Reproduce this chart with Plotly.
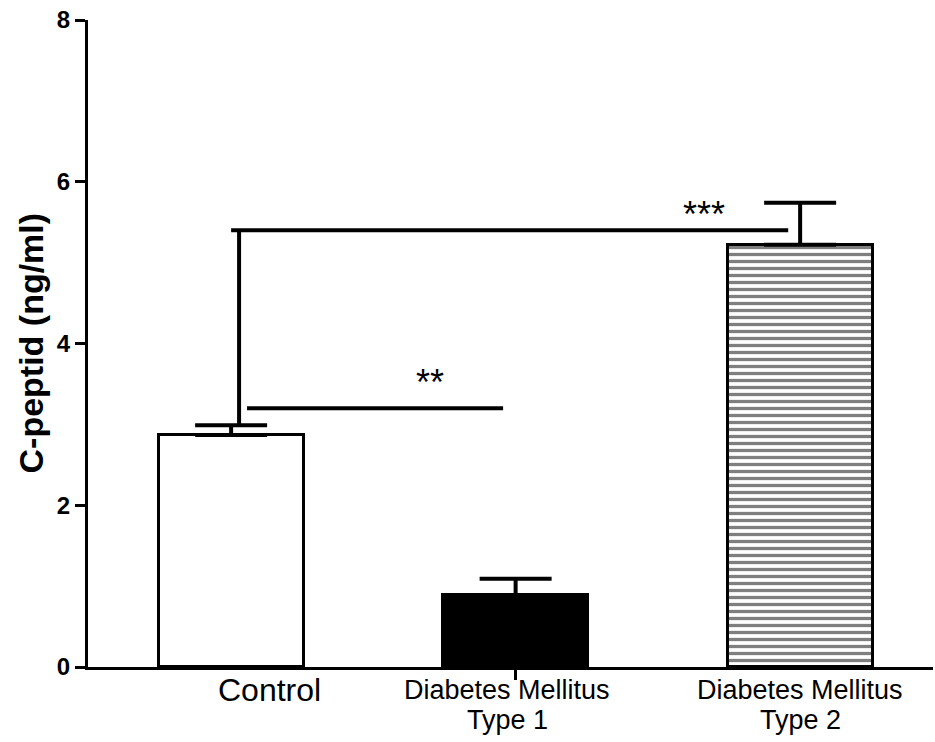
import plotly.graph_objects as go

categories = ["Control", "Diabetes Mellitus Type 1", "Diabetes Mellitus Type 2"]
label_lines = [["Control"], ["Diabetes Mellitus", "Type 1"], ["Diabetes Mellitus", "Type 2"]]
means = [2.87, 0.89, 5.22]
sem = [0.12, 0.20, 0.52]
y_ticks = [0, 2, 4, 6, 8]

# significance annotations
sig_high_level = 5.40   # control vs type 2
sig_low_level = 3.20    # control vs type 1
sig_high_text = "***"
sig_low_text = "**"

FONT = "Liberation Sans, Arial, sans-serif"
xpos = list(range(len(categories)))

W, H = 935, 742
ML, MR, MT, MB = 88, 2, 20, 75

fig = go.Figure()

fills = ["white", "black", "white"]
patterns = [dict(shape=""), dict(shape=""),
            dict(shape="-", size=7, solidity=0.47, fgcolor="black", bgcolor="white", fillmode="overlay")]
for i in range(3):
    fig.add_trace(go.Bar(
        x=[xpos[i]], y=[means[i]], width=0.51,
        marker=dict(color=fills[i], line=dict(color="black", width=3), pattern=patterns[i]),
        error_y=dict(type="data", symmetric=False, array=[sem[i]], arrayminus=[0],
                     color="black", thickness=4, width=36),
        showlegend=False, hoverinfo="skip",
    ))

# bracket control -> type 2
ctrl_top = means[0] + sem[0]
fig.add_trace(go.Scatter(
    x=[xpos[0] + 0.028, xpos[0] + 0.028, None, xpos[0] + 0.0, xpos[2] - 0.042],
    y=[ctrl_top, sig_high_level, None, sig_high_level, sig_high_level],
    mode="lines", line=dict(color="black", width=4), showlegend=False, hoverinfo="skip"))
# bracket control -> type 1
fig.add_trace(go.Scatter(
    x=[xpos[0] + 0.056, xpos[1] - 0.044],
    y=[sig_low_level, sig_low_level],
    mode="lines", line=dict(color="black", width=4), showlegend=False, hoverinfo="skip"))

plot_w = W - ML - MR
plot_h = H - MT - MB

annotations = [
    dict(x=xpos[2] - 0.337, y=sig_high_level - 0.08, text=sig_high_text, showarrow=False,
         xref="x", yref="y", yanchor="bottom", font=dict(family=FONT, size=36, color="black")),
    dict(x=xpos[1] - 0.30, y=sig_low_level + 0.045, text=sig_low_text, showarrow=False,
         xref="x", yref="y", yanchor="bottom", font=dict(family=FONT, size=36, color="black")),
    dict(x=(30 - ML) / plot_w, y=0.5, xref="paper", yref="paper", text="C-peptid (ng/ml)", textangle=-90,
         showarrow=False, xanchor="center", yanchor="middle",
         font=dict(family=FONT, size=34, color="black", weight="bold")),
]

# category labels (pixel offsets below the x axis)
label_offsets = [0.135, -0.03, 0.0]
label_sizes = [32, 27, 27]
for i, lines in enumerate(label_lines):
    for j, line in enumerate(lines):
        annotations.append(dict(
            x=xpos[i] + label_offsets[i], y=-(23 + 30 * j) / plot_h, xref="x", yref="paper",
            text=line, showarrow=False, xanchor="center", yanchor="middle",
            font=dict(family=FONT, size=label_sizes[i], color="black")))

fig.update_layout(
    width=W, height=H,
    margin=dict(l=ML, r=MR, t=MT, b=MB),
    plot_bgcolor="white", paper_bgcolor="white",
    bargap=0,
    annotations=annotations,
    xaxis=dict(range=[-0.503, 2.467], showgrid=False, zeroline=False,
               showline=True, linecolor="black", linewidth=3,
               ticks="outside", tickvals=[xpos[1]], ticklen=10, tickwidth=3, tickcolor="black",
               showticklabels=False),
    yaxis=dict(range=[0, 8], tickvals=y_ticks, showgrid=False, zeroline=False,
               showline=True, linecolor="black", linewidth=3,
               ticks="outside", ticklen=10, tickwidth=3, tickcolor="black",
               automargin=False,
               tickfont=dict(family=FONT, size=24, color="black", weight="bold")),
)

fig.write_html("out.html", config={"displayModeBar": False},
               post_script="document.body.style.margin='0';document.body.style.overflow='hidden';")
